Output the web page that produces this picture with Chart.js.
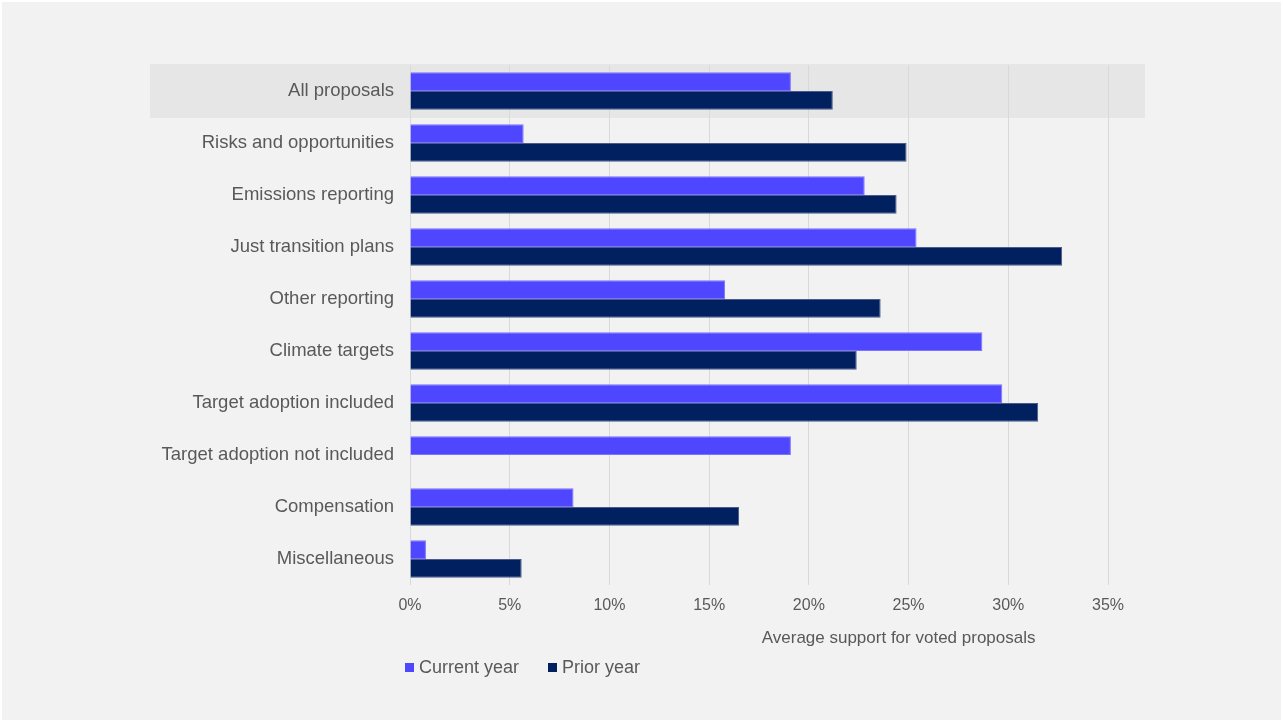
<!DOCTYPE html>
<html>
<head>
<meta charset="utf-8">
<script src="https://cdn.jsdelivr.net/npm/chart.js@4"></script>
<style>
  html, body { margin:0; padding:0; background:#fff; }
  #frame { position:absolute; left:2px; top:2px; width:1279px; height:718px; background:#f2f2f2; }
  #wrap { position:absolute; left:0; top:0; width:1283px; height:722px; }
  .legend { position:absolute; top:657px; left:405px; font-family:"Liberation Sans", Arial, sans-serif; font-size:18px; color:#595959; display:flex; gap:29px; }
  .legend span.sw { display:inline-block; width:9px; height:9px; margin-right:5px; vertical-align:1px; }
</style>
</head>
<body>
<div id="frame"></div>
<div id="wrap"><canvas id="chart" width="1283" height="722"></canvas></div>
<div class="legend">
  <div><span class="sw" style="background:#4F46FF"></span>Current year</div>
  <div><span class="sw" style="background:#00205F"></span>Prior year</div>
</div>
<script>
const categories = ['All proposals', 'Risks and opportunities', 'Emissions reporting', 'Just transition plans',
  'Other reporting', 'Climate targets', 'Target adoption included', 'Target adoption not included',
  'Compensation', 'Miscellaneous'];
const currentYear = [19.1, 5.7, 22.8, 25.4, 15.8, 28.7, 29.7, 19.1, 8.2, 0.8];
const priorYear   = [21.2, 24.9, 24.4, 32.7, 23.6, 22.4, 31.5, null, 16.5, 5.6];
const xTicks = [0, 5, 10, 15, 20, 25, 30, 35];
const axisTitle = 'Average support for voted proposals';

const FONT = '"Liberation Sans", Arial, sans-serif';
const GREY = '#595959';

// grey band behind the first row + the x axis title
const extras = {
  id: 'extras',
  beforeDraw(chart) {
    const { ctx, chartArea } = chart;
    const y = chart.scales.y;
    const half = (y.getPixelForValue(1) - y.getPixelForValue(0)) / 2;
    const c = y.getPixelForValue(0);
    ctx.save();
    ctx.fillStyle = '#e6e6e6';
    ctx.fillRect(150, c - half - 1, chartArea.right + 37 - 150, half * 2 + 2);
    ctx.restore();
  },
  afterDraw(chart) {
    const { ctx, chartArea } = chart;
    ctx.save();
    ctx.font = '17px ' + FONT;
    ctx.fillStyle = GREY;
    ctx.textAlign = 'center';
    ctx.textBaseline = 'middle';
    ctx.fillText(axisTitle, chartArea.left + (chartArea.right - chartArea.left) * 0.7, chartArea.bottom + 53);
    ctx.restore();
  }
};

new Chart(document.getElementById('chart'), {
  type: 'bar',
  data: {
    labels: categories,
    datasets: [
      { label: 'Current year', data: currentYear, backgroundColor: '#4F46FF', borderColor: '#7a74ff', borderWidth: 1 },
      { label: 'Prior year', data: priorYear, backgroundColor: '#00205F', borderColor: '#4a5a8a', borderWidth: 1 }
    ]
  },
  options: {
    indexAxis: 'y',
    responsive: false,
    animation: false,
    layout: { padding: { top: 65, right: 175, left: 0, bottom: 0 } },
    plugins: { legend: { display: false }, tooltip: { enabled: false } },
    datasets: { bar: { barPercentage: 1, categoryPercentage: 0.72 } },
    scales: {
      x: {
        min: 0, max: 35,
        afterBuildTicks(scale) { scale.ticks = xTicks.map(v => ({ value: v })); },
        afterFit(scale) { scale.height = 137; },
        grid: { color: '#d9d9d9', lineWidth: 1, drawTicks: false },
        border: { display: false },
        ticks: { padding: 11, color: GREY, font: { family: FONT, size: 16 }, callback: v => v + '%' }
      },
      y: {
        afterFit(scale) { scale.width = 410; },
        grid: { display: false, drawTicks: false },
        border: { display: false },
        ticks: { padding: 16, color: GREY, font: { family: FONT, size: 18.5 } }
      }
    }
  },
  plugins: [extras]
});
</script>
</body>
</html>
